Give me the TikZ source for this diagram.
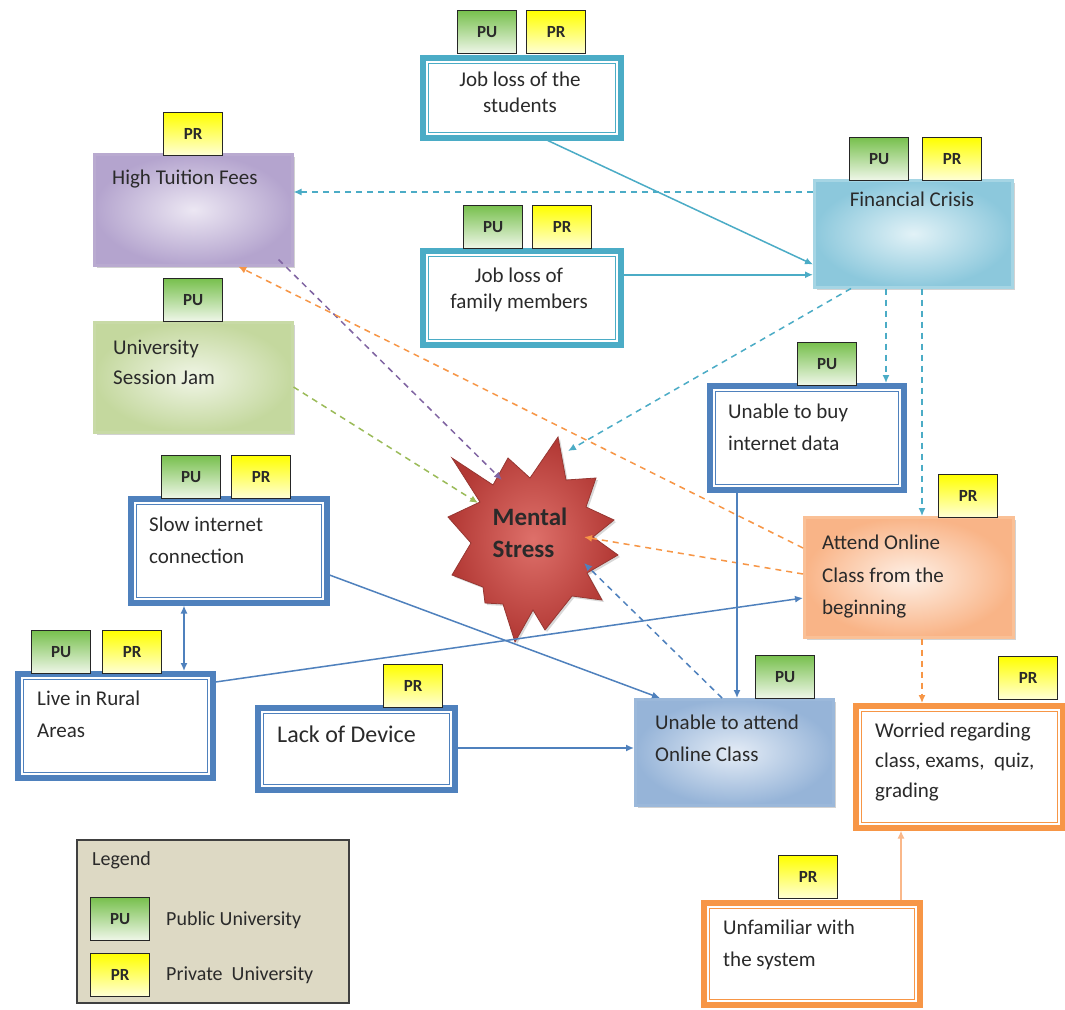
\documentclass[tikz,border=0pt]{standalone}
\usepackage{fontspec}
\setmainfont{Carlito}
\usetikzlibrary{arrows.meta,shapes.geometric,shadows}
\definecolor{cteal}{HTML}{4BACC6}
\definecolor{cblue}{HTML}{4F81BD}
\definecolor{corange}{HTML}{F79646}
\definecolor{clorange}{HTML}{FAB88A}
\definecolor{cpurple}{HTML}{8064A2}
\definecolor{cgreen}{HTML}{9BBB59}
\definecolor{ctext}{HTML}{2A2A2A}
\newcommand\bx[6]{\node[#2, anchor=north west, minimum width={#5-#3}, minimum height={#6-#4}] (#1) at (#3,#4) {};}
\tikzset{
  dbl/.style={draw=#1, line width=5.5pt, fill=white, inner sep=0pt},
  fbx/.style n args={3}{draw=#1, line width=2.5pt, inner color=#2, outer color=#3, inner sep=0pt,
     drop shadow={opacity=0.35, shadow xshift=3pt, shadow yshift=-3pt}},
  tagbase/.style={draw=black!85, line width=1.3pt, anchor=north west, minimum width=59pt, minimum height=43pt,
     inner sep=0pt, font=\fontsize{17}{20}\selectfont\bfseries, text=ctext},
  tagpu/.style={tagbase, top color={rgb,255:red,120;green,192;blue,78}, bottom color={rgb,255:red,240;green,247;blue,234}},
  tagpr/.style={tagbase, top color={rgb,255:red,255;green,255;blue,0}, bottom color={rgb,255:red,255;green,255;blue,215}},
  txt/.style={font=\fontsize{21}{32}\selectfont, text=ctext, inner sep=0pt, align=left, anchor=north west},
  ctxt/.style={font=\fontsize{21}{26}\selectfont, text=ctext, inner sep=0pt, align=center, anchor=north},
  tip/.style={-{Latex[length=8pt,width=7pt]}},
  sol/.style={tip, line width=1.5pt, draw=#1},
  dsh/.style={tip, line width=1.5pt, draw=#1, dash pattern=on 6pt off 5pt}
}
\begin{document}
\begin{tikzpicture}[x=1pt,y=-1pt]
\useasboundingbox (0,0) rectangle (1065,1009);
\fill[white] (0,0) rectangle (1065,1009);

% ---------- boxes ----------
\bx{jls}{dbl=cteal}{420}{55}{618}{135}
\bx{jlf}{dbl=cteal}{420}{248}{618}{342}
\bx{ubd}{dbl=cblue}{707}{383}{901}{487}
\bx{sic}{dbl=cblue}{128}{496}{324}{600}
\bx{lra}{dbl=cblue}{15}{671}{210}{775}
\bx{lod}{dbl=cblue}{255}{705}{452}{787}
\bx{wor}{dbl=corange}{853}{703}{1060}{825}
\bx{unf}{dbl=corange}{701}{900}{917}{1002}
\foreach \n/\cc in {jls/cteal,jlf/cteal,ubd/cblue,sic/cblue,lra/cblue,lod/cblue,wor/corange,unf/corange}
  \draw[draw=\cc, line width=1.3pt] ([shift={(8.2pt,-8.2pt)}]\n.north west) rectangle ([shift={(-8.2pt,8.2pt)}]\n.south east);

\bx{fc}{fbx={{rgb,255:red,165;green,213;blue,228}}{{rgb,255:red,226;green,242;blue,247}}{{rgb,255:red,140;green,200;blue,220}}}{813}{179}{1011}{286}
\bx{htf}{fbx={{rgb,255:red,185;green,170;blue,208}}{{rgb,255:red,236;green,231;blue,243}}{{rgb,255:red,180;green,164;blue,206}}}{93}{153}{291}{264}
\bx{sj}{fbx={{rgb,255:red,200;green,218;blue,166}}{{rgb,255:red,240;green,245;blue,230}}{{rgb,255:red,196;green,216;blue,158}}}{93}{321}{291}{431}
\bx{aoc}{fbx={{rgb,255:red,250;green,192;blue,150}}{{rgb,255:red,254;green,240;blue,230}}{{rgb,255:red,249;green,180;blue,135}}}{803}{516}{1012}{636}
\bx{uac}{fbx={{rgb,255:red,155;green,184;blue,218}}{{rgb,255:red,228;green,236;blue,246}}{{rgb,255:red,150;green,180;blue,216}}}{634}{698}{832}{804}
\bx{leg}{draw=black!75, line width=1.5pt, fill={rgb,255:red,221;green,217;blue,196}}{76}{839}{348}{1002}

% ---------- explosion (Mental Stress) ----------
\node[inner sep=0pt, minimum size=170pt] (ms) at (530,545) {};
\path[draw={rgb,255:red,150;green,55;blue,50}, line width=0.8pt, line join=miter,
      inner color={rgb,255:red,222;green,112;blue,106}, outer color={rgb,255:red,178;green,56;blue,52},
      drop shadow={opacity=0.3, shadow xshift=2pt, shadow yshift=-2pt}]
  (558,437) -- (566,480) -- (596,478) -- (586,507) -- (614,520) -- (593,537) -- (618,555)
  -- (587,573) -- (602,600) -- (572,596) -- (545,630) -- (533,610) -- (515,642) -- (503,604)
  -- (485,603) -- (483,587) -- (452,575) -- (471,543) -- (448,517) -- (480,502) -- (452,458)
  -- (493,485) -- (508,458) -- (530,478) -- cycle;
\node[font=\fontsize{25}{32}\selectfont\bfseries, text=ctext, align=left, inner sep=0pt] (mst) at (530,533) {Mental\\Stress};

% ---------- texts ----------
\node[ctxt] (jls-t) at (520,72) {Job loss of the\\students};
\node[ctxt] (jlf-t) at (519,268) {Job loss of\\family members};
\node[ctxt] (fc-t) at (912,192) {Financial Crisis};
\node[txt] (htf-t) at (112,170) {High Tuition Fees};
\node[txt, font=\fontsize{21}{30}\selectfont] (sj-t) at (113,340) {University\\Session Jam};
\node[txt] (ubd-t) at (728,404) {Unable to buy\\internet data};
\node[txt, font=\fontsize{21}{32.5}\selectfont] (aoc-t) at (822,535) {Attend Online\\Class from the\\beginning};
\node[txt] (sic-t) at (149,517) {Slow internet\\connection};
\node[txt] (lra-t) at (37,691) {Live in Rural\\Areas};
\node[txt, font=\fontsize{24}{30}\selectfont] (lod-t) at (277,726) {Lack of Device};
\node[txt] (uac-t) at (655,715) {Unable to attend\\Online Class};
\node[txt, font=\fontsize{21}{30}\selectfont] (wor-t) at (875,723) {Worried regarding\\class, exams,~ quiz,\\grading};
\node[txt] (unf-t) at (723,920) {Unfamiliar with\\the system};
\node[txt, font=\fontsize{20}{24}\selectfont] (leg-t) at (92,851) {Legend};
\node[txt, font=\fontsize{20}{24}\selectfont, anchor=west] (leg-pu) at (166,920) {Public University};
\node[txt, font=\fontsize{20}{24}\selectfont, anchor=west] (leg-pr) at (166,975) {Private~ University};

% ---------- tags ----------
\node[tagpu] (jls-pu) at (457,10) {PU};
\node[tagpr] (jls-pr) at (526,10) {PR};
\node[tagpu] (jlf-pu) at (463,205) {PU};
\node[tagpr] (jlf-pr) at (532,205) {PR};
\node[tagpu] (fc-pu) at (849,137) {PU};
\node[tagpr] (fc-pr) at (922,137) {PR};
\node[tagpr] (htf-pr) at (163,112) {PR};
\node[tagpu] (sj-pu) at (163,278) {PU};
\node[tagpu] (ubd-pu) at (797,342) {PU};
\node[tagpr] (aoc-pr) at (938,474) {PR};
\node[tagpu] (sic-pu) at (161,455) {PU};
\node[tagpr] (sic-pr) at (231,455) {PR};
\node[tagpu] (lra-pu) at (31,630) {PU};
\node[tagpr] (lra-pr) at (102,630) {PR};
\node[tagpr] (lod-pr) at (383,664) {PR};
\node[tagpu] (uac-pu) at (755,655) {PU};
\node[tagpr] (wor-pr) at (998,656) {PR};
\node[tagpr] (unf-pr) at (778,855) {PR};
\node[tagpu] (leg-tpu) at (90,897) {PU};
\node[tagpr] (leg-tpr) at (90,953) {PR};

% ---------- connector anchor points ----------
\coordinate (jlso) at ([xshift=26pt]jls.south);
\coordinate (fci1) at ([yshift=24pt]fc.south west);
\coordinate (jlfo) at ([yshift=23pt]jlf.east);
\coordinate (fco1) at ([yshift=-13pt]fc.north west);
\coordinate (fco2) at ([xshift=38pt]fc.south west);
\coordinate (fco3) at ([xshift=73pt]fc.south west);
\coordinate (fco4) at ([xshift=109pt]fc.south west);
\coordinate (htfo) at ([shift={(-15pt,7pt)}]htf.south east);
\coordinate (htfi) at ([xshift=45pt]htf.south);
\coordinate (aoco1) at ([yshift=-32pt]aoc.north west);
\coordinate (aoco2) at ([yshift=-58pt]aoc.north west);
\coordinate (aoci) at ([yshift=-82pt]aoc.north west);
\coordinate (aoco3) at ([xshift=119pt]aoc.south west);
\coordinate (sjo) at ([yshift=-66pt]sj.north east);
\coordinate (sico1) at ([yshift=-79pt]sic.north east);
\coordinate (sico2) at ([xshift=56pt]sic.south west);
\coordinate (lrao) at ([yshift=-11pt]lra.north east);
\coordinate (lodo) at ([yshift=-43pt]lod.north east);
\coordinate (ubdo) at ([xshift=30pt]ubd.south west);
\coordinate (uaci) at ([xshift=26pt]uac.north west);
\coordinate (uaco) at ([xshift=88pt]uac.north west);
\coordinate (unfo) at ([xshift=200pt]unf.north west);
\coordinate (ms-fc) at ([shift={(38pt,94pt)}]ms.center);
\coordinate (ms-htf) at ([shift={(-28pt,65pt)}]ms.center);
\coordinate (ms-sj) at ([shift={(-52pt,42pt)}]ms.center);
\coordinate (ms-aoc) at ([shift={(54pt,8pt)}]ms.center);
\coordinate (ms-uac) at ([shift={(54pt,-18pt)}]ms.center);

% ---------- connectors ----------
\draw[sol=cteal] (jlso) -- (fci1);
\draw[sol=cteal] (jlfo) -- (jlfo -| fc.west);
\draw[dsh=cteal] (fco1) -- (fco1 -| htf.east);
\draw[dsh=cteal] (fco2) -- (ms-fc);
\draw[dsh=cteal] (fco3) -- (fco3 |- ubd.north);
\draw[dsh=cteal] (fco4) -- (fco4 |- aoc.north);
\draw[dsh=cpurple] (htfo) -- (ms-htf);
\draw[dsh=corange] (aoco1) -- (htfi);
\draw[dsh=corange] (aoco2) -- (ms-aoc);
\draw[dsh=cgreen] (sjo) -- (ms-sj);
\draw[sol=cblue] (sico1) -- (uaci);
\draw[sol=cblue, {Latex[length=8pt,width=7pt]}-{Latex[length=8pt,width=7pt]}] (sico2) -- (sico2 |- lra.north);
\draw[sol=cblue] (lrao) -- (aoci);
\draw[sol=cblue] (lodo) -- (lodo -| uac.west);
\draw[sol=cblue] (ubdo) -- (ubdo |- uac.north);
\draw[dsh=cblue] (uaco) -- (ms-uac);
\draw[dsh=corange] (aoco3) -- (aoco3 |- wor.north);
\draw[sol=clorange] (unfo) -- (unfo |- wor.south);
\end{tikzpicture}
\end{document}
